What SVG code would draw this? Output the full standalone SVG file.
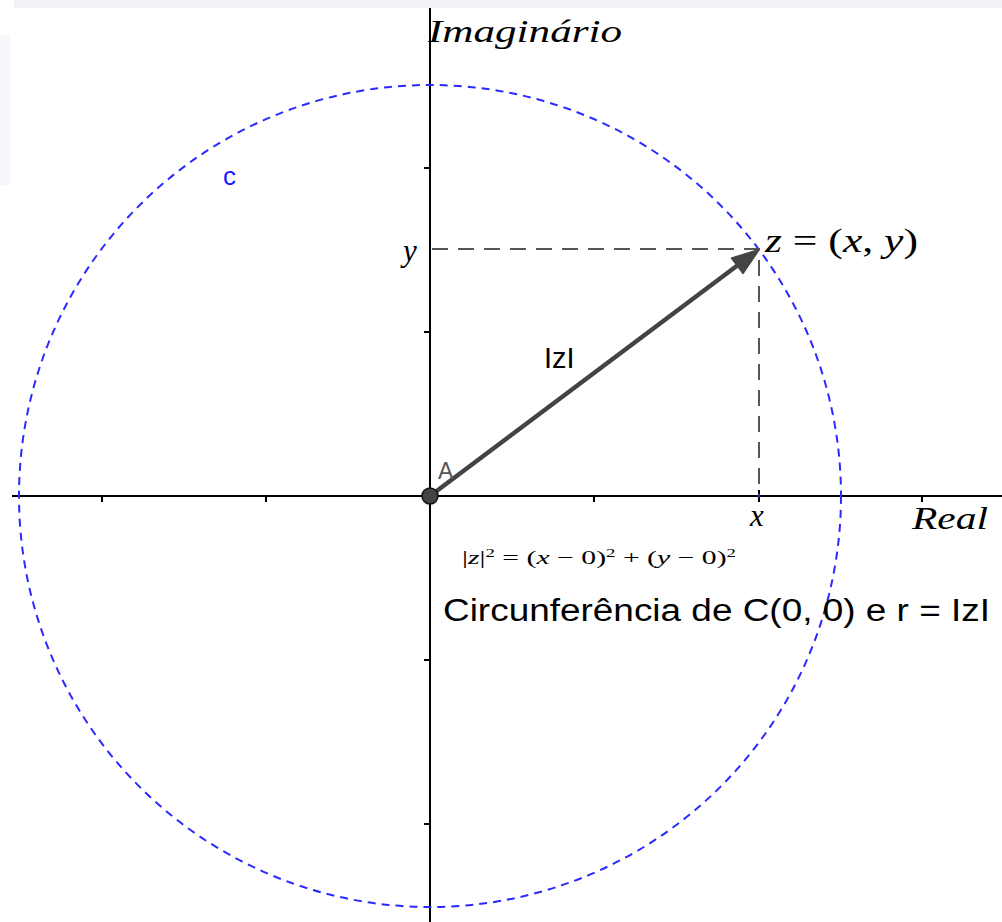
<svg xmlns="http://www.w3.org/2000/svg" width="1002" height="922" viewBox="0 0 1002 922">
<style>
.axis{stroke:#000;stroke-width:2;fill:none}
.tick{stroke:#000;stroke-width:2}
.guide{stroke:#555;stroke-width:2;stroke-dasharray:16 10;fill:none}
.circ{stroke:#2a2aff;stroke-width:2;stroke-dasharray:8 6;fill:none}
.math{font-family:"Liberation Serif","DejaVu Serif",serif;font-style:italic;fill:#000}
.rm{font-style:normal}
.sans{font-family:"Liberation Sans","DejaVu Sans",sans-serif;fill:#000}
</style>
<rect width="1002" height="922" fill="#fff"/>
<rect x="14" y="0" width="988" height="8" fill="#f1f2f6"/>
<rect x="0" y="35" width="10" height="150" fill="#f6f8fb"/>
<g id="axes">
<line class="axis" x1="12" y1="496" x2="1002" y2="496"/>
<line class="axis" x1="430" y1="8" x2="430" y2="922"/>
<g class="tick">
<line x1="102" y1="496" x2="102" y2="502"/>
<line x1="266" y1="496" x2="266" y2="502"/>
<line x1="594" y1="496" x2="594" y2="502"/>
<line x1="759" y1="490" x2="759" y2="502"/>
<line x1="922" y1="496" x2="922" y2="502"/>
<line x1="424" y1="168" x2="430" y2="168"/>
<line x1="424" y1="332" x2="430" y2="332"/>
<line x1="424" y1="660" x2="430" y2="660"/>
<line x1="424" y1="824" x2="430" y2="824"/>
</g>
<text class="math" x="428" y="42" font-size="32" textLength="194" lengthAdjust="spacingAndGlyphs">Imaginário</text>
<text class="math" x="912" y="529" font-size="32" textLength="76" lengthAdjust="spacingAndGlyphs">Real</text>
</g>
<g id="circle-c">
<circle class="circ" cx="430" cy="496" r="411"/>
<text class="sans" x="223" y="185" font-size="26" style="fill:#1a1aff">c</text>
</g>
<g id="connectors">
<path class="guide" d="M432 249 H759 V496"/>
<line x1="430" y1="496" x2="738" y2="265" stroke="#444" stroke-width="4.5"/>
<polygon points="760,249 743,274 731,258" fill="#444" stroke="#444" stroke-width="1"/>
</g>
<g id="point-A">
<circle cx="430" cy="496" r="8" fill="#444" stroke="#111" stroke-width="1.5"/>
<text class="sans" x="438" y="479" font-size="23" style="fill:#555">A</text>
</g>
<g id="point-x">
<circle cx="759" cy="496" r="1.5" fill="#2233aa"/>
<text class="math" x="750" y="526" font-size="31">x</text>
</g>
<g id="label-y">
<text class="math" x="403" y="261" font-size="31">y</text>
</g>
<g id="point-z">
<text class="math" x="765" y="252" font-size="33" textLength="153" lengthAdjust="spacingAndGlyphs">z <tspan class="rm">=</tspan> <tspan class="rm">(</tspan>x<tspan class="rm">,</tspan> y<tspan class="rm">)</tspan></text>
</g>
<g id="label-modz">
<text class="sans" x="544" y="368" font-size="29">IzI</text>
</g>
<g id="formula">
<text class="math" x="462" y="564" font-size="19" textLength="274" lengthAdjust="spacingAndGlyphs"><tspan class="rm">|</tspan>z<tspan class="rm">|</tspan><tspan class="rm" font-size="12" dy="-7">2</tspan><tspan class="rm" dy="7"> = (</tspan>x<tspan class="rm"> − 0)</tspan><tspan class="rm" font-size="12" dy="-7">2</tspan><tspan class="rm" dy="7"> + (</tspan>y<tspan class="rm"> − 0)</tspan><tspan class="rm" font-size="12" dy="-7">2</tspan></text>
</g>
<g id="caption">
<text class="sans" x="443" y="621" font-size="31" textLength="547" lengthAdjust="spacingAndGlyphs">Circunferência de C(0, 0) e r = IzI</text>
</g>
</svg>
